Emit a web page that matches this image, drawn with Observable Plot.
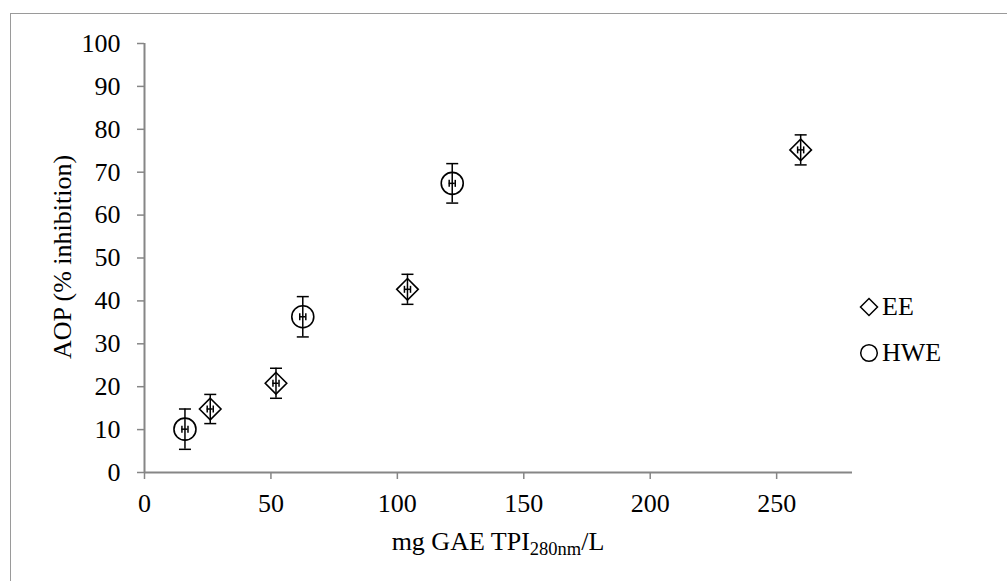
<!DOCTYPE html>
<html>
<head>
<meta charset="utf-8">
<script src="https://cdn.jsdelivr.net/npm/d3@7"></script>
<script src="https://cdn.jsdelivr.net/npm/@observablehq/plot@0.6"></script>
<style>
  html, body { margin: 0; padding: 0; background: #fff; }
  #wrap { position: relative; width: 1007px; height: 581px; overflow: hidden; font-family: "Liberation Serif", "Times New Roman", serif; }
  #frame { position: absolute; left: 10px; top: 13px; right: -20px; bottom: -20px; border-top: 1.5px solid #9a9a9a; border-left: 1.5px solid #9a9a9a; pointer-events: none; }
  #legend { position: absolute; left: 858px; top: 284px; font-size: 26px; line-height: 46px; color: #000; }
  #legend .row { display: flex; align-items: center; height: 46px; }
  #legend svg { margin-right: 2px; }
</style>
</head>
<body>
<div id="wrap">
  <div id="chart"></div>
  <div id="frame"></div>
  <div id="legend"></div>
</div>
<script>
// Ethanol extract (EE)
const eeX = [26, 52, 104, 259.5];
const eeY = [14.8, 20.8, 42.7, 75.2];
const eeYErr = [3.4, 3.5, 3.5, 3.5];
const eeXErr = [1.2, 1.2, 1.2, 1.2];

// Hot water extract (HWE)
const hweX = [16, 62.6, 121.7];
const hweY = [10.1, 36.3, 67.4];
const hweYErr = [4.7, 4.7, 4.6];
const hweXErr = [1.2, 1.2, 1.2];

const seriesNames = ["EE", "HWE"];
const xTicks = [0, 50, 100, 150, 200, 250];
const yTicks = [0, 10, 20, 30, 40, 50, 60, 70, 80, 90, 100];

const rows = (xs, ys, ye, xe, name) =>
  xs.map((x, i) => ({ series: name, x, y: ys[i], ey: ye[i], ex: xe[i] }));
const ee = rows(eeX, eeY, eeYErr, eeXErr, "EE");
const hwe = rows(hweX, hweY, hweYErr, hweXErr, "HWE");
const all = ee.concat(hwe);

// cap glyphs for the error bars
const hCap = { draw(ctx) { ctx.moveTo(-6, 0); ctx.lineTo(6, 0); } };
const vCap = { draw(ctx) { ctx.moveTo(0, -3.5); ctx.lineTo(0, 3.5); } };

const axisColor = "#868686";
const errStyle = { stroke: "black", strokeWidth: 1.5 };
const fs = 26;

const chart = Plot.plot({
  width: 1007,
  height: 581,
  marginLeft: 144,
  marginRight: 155,
  marginTop: 43,
  marginBottom: 109,
  style: { fontFamily: "'Liberation Serif', 'Times New Roman', serif", fontSize: fs + "px", background: "transparent", color: "black" },
  x: { domain: [0, 280] },
  y: { domain: [0, 100] },
  marks: [
    Plot.ruleY([0], { stroke: axisColor, strokeWidth: 2 }),
    Plot.ruleX([0], { stroke: axisColor, strokeWidth: 2 }),
    Plot.axisX({ ticks: xTicks, tickSize: 7, tickPadding: 14, fontSize: fs, stroke: axisColor, strokeWidth: 1.5, fill: "black", label: null, tickFormat: d => String(d) }),
    Plot.axisY({ ticks: yTicks, tickSize: 7, tickPadding: 17, fontSize: fs, stroke: axisColor, strokeWidth: 1.5, fill: "black", label: null, tickFormat: d => String(d) }),
    // markers
    Plot.dot(ee, { x: "x", y: "y", symbol: "diamond2", r: 9.7, stroke: "black", strokeWidth: 1.6, fill: "none" }),
    Plot.dot(hwe, { x: "x", y: "y", symbol: "circle", r: 11, stroke: "black", strokeWidth: 1.6, fill: "none" }),
    // vertical error bars
    Plot.ruleX(all, { x: "x", y1: d => d.y - d.ey, y2: d => d.y + d.ey, ...errStyle }),
    Plot.dot(all, { x: "x", y: d => d.y - d.ey, symbol: hCap, ...errStyle, fill: "none" }),
    Plot.dot(all, { x: "x", y: d => d.y + d.ey, symbol: hCap, ...errStyle, fill: "none" }),
    // horizontal error bars
    Plot.ruleY(all, { y: "y", x1: d => d.x - d.ex, x2: d => d.x + d.ex, ...errStyle }),
    Plot.dot(all, { x: d => d.x - d.ex, y: "y", symbol: vCap, ...errStyle, fill: "none" }),
    Plot.dot(all, { x: d => d.x + d.ex, y: "y", symbol: vCap, ...errStyle, fill: "none" })
  ]
});

document.getElementById("chart").append(chart);

// axis titles
const svg = d3.select(chart);
svg.append("text")
  .attr("transform", "translate(71,257) rotate(-90)")
  .attr("text-anchor", "middle")
  .attr("font-size", fs)
  .attr("fill", "black")
  .text("AOP (% inhibition)");

const xt = svg.append("text")
  .attr("x", 498)
  .attr("y", 550)
  .attr("text-anchor", "middle")
  .attr("font-size", fs)
  .attr("fill", "black");
xt.append("tspan").text("mg GAE TPI");
xt.append("tspan").attr("font-size", 18.5).attr("dy", 5).text("280nm");
xt.append("tspan").attr("dy", -5).text("/L");

// legend
const legendSymbols = { EE: d3.symbolDiamond2, HWE: d3.symbolCircle };
const legendSizes = { EE: Math.pow(8.5 / 0.62625, 2), HWE: Math.PI * 8.3 * 8.3 };
const legend = d3.select("#legend");
seriesNames.forEach(name => {
  const row = legend.append("div").attr("class", "row");
  const s = row.append("svg").attr("width", 22).attr("height", 22);
  s.append("path")
    .attr("transform", "translate(11,11)")
    .attr("d", d3.symbol(legendSymbols[name], legendSizes[name])())
    .attr("fill", "none")
    .attr("stroke", "black")
    .attr("stroke-width", 1.5);
  row.append("span").text(name);
});
</script>
</body>
</html>
